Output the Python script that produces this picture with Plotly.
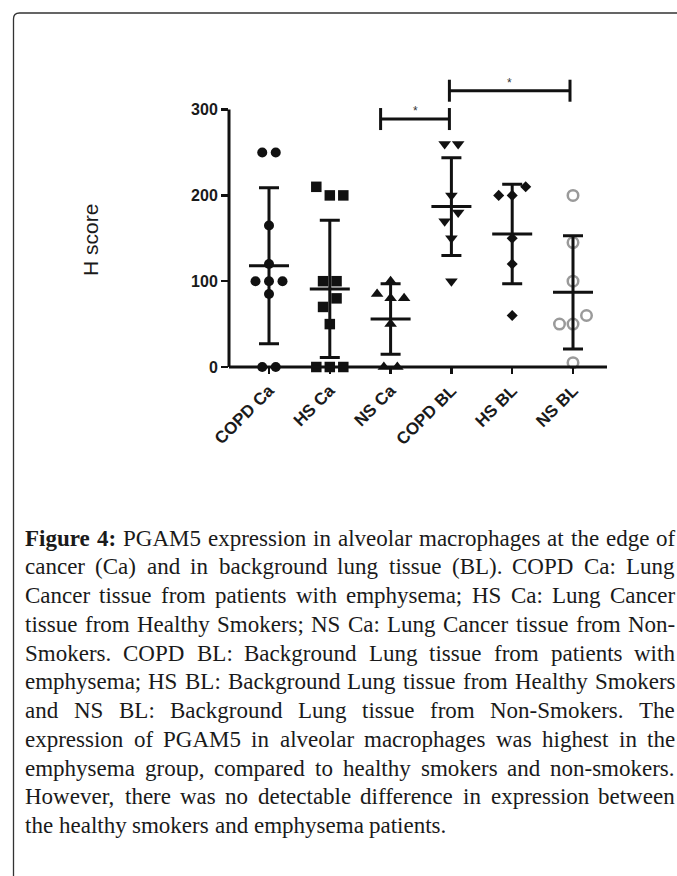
import plotly.graph_objects as go

# ---------------- data ----------------
categories = ["COPD Ca", "HS Ca", "NS Ca", "COPD BL", "HS BL", "NS BL"]
copd_ca = [250, 250, 165, 120, 100, 100, 100, 85, 0, 0]
hs_ca = [210, 200, 200, 100, 100, 70, 80, 50, 0, 0, 0]
ns_ca = [100, 85, 80, 80, 50, 0, 0]
copd_bl = [260, 260, 200, 170, 180, 150, 100]
hs_bl = [200, 200, 210, 150, 120, 60]
ns_bl = [200, 145, 100, 50, 50, 60, 5]
group_means = [118, 91, 56, 187, 155, 87]
group_sds = [91, 80, 41, 57, 58, 66]
y_ticks = [0, 100, 200, 300]
sig_pairs = [("NS Ca", "COPD BL"), ("COPD BL", "NS BL")]
sig_levels = [289, 322]
sig_labels = ["*", "*"]
y_title = "H score"

caption_lines = [
    "Figure 4: PGAM5 expression in alveolar macrophages at the edge of",
    "cancer (Ca) and in background lung tissue (BL). COPD Ca: Lung",
    "Cancer tissue from patients with emphysema; HS Ca: Lung Cancer",
    "tissue from Healthy Smokers; NS Ca: Lung Cancer tissue from Non-",
    "Smokers. COPD BL: Background Lung tissue from patients with",
    "emphysema; HS BL: Background Lung tissue from Healthy Smokers",
    "and NS BL: Background Lung tissue from Non-Smokers. The",
    "expression of PGAM5 in alveolar macrophages was highest in the",
    "emphysema group, compared to healthy smokers and non-smokers.",
    "However, there was no detectable difference in expression between",
    "the healthy smokers and emphysema patients.",
]
caption_bold_words = 2  # "Figure 4:"

groups = [copd_ca, hs_ca, ns_ca, copd_bl, hs_bl, ns_bl]

# ---------------- geometry / style ----------------
W, H = 677, 876
ML, MR, MT, MB = 229, 70, 71, 509
PW, PH = W - ML - MR, H - MT - MB
PX_PER_CAT = 60.8
FIRST_CAT_PX = 269
X0 = -(FIRST_CAT_PX - ML) / PX_PER_CAT
X1 = X0 + PW / PX_PER_CAT
PX_PER_UNIT = 0.858
Y1 = PH / PX_PER_UNIT

def px2x(px):
    return (px - ML) / PW

def py2y(py):
    return (H - MB - py) / PH

def u(px):  # pixels -> category units
    return px / PX_PER_CAT

symbols = ["circle", "square", "triangle-up", "triangle-down", "diamond", "circle-open"]
sizes = [10, 10.5, 11, 11, 8.5, 10.5]
colors = ["#111", "#111", "#111", "#111", "#111", "#9a9a9a"]
INK = "#111111"


def swarm_offsets(vals, gap, tol=12):
    order = sorted(range(len(vals)), key=lambda i: vals[i])
    clusters = []
    for i in order:
        if clusters and vals[i] - vals[clusters[-1][-1]] <= tol:
            clusters[-1].append(i)
        else:
            clusters.append([i])
    off = [0.0] * len(vals)
    for cl in clusters:
        cl = sorted(cl)
        n = len(cl)
        for k, i in enumerate(cl):
            off[i] = (k - (n - 1) / 2) * gap
    return off


fig = go.Figure()

# points
for gi, vals in enumerate(groups):
    offs = swarm_offsets(vals, u(13.5))
    xs = [gi + o for o in offs]
    mk = dict(symbol=symbols[gi], size=sizes[gi], color=colors[gi])
    if symbols[gi].endswith("open"):
        mk["line"] = dict(width=2.5, color=colors[gi])
    else:
        mk["line"] = dict(width=0)
    fig.add_trace(go.Scatter(x=xs, y=vals, mode="markers", marker=mk,
                             cliponaxis=False, showlegend=False, hoverinfo="skip"))

# mean lines
mx, my = [], []
hw = u(20)
for gi, m in enumerate(group_means):
    mx += [gi - hw, gi + hw, None]
    my += [m, m, None]
fig.add_trace(go.Scatter(x=mx, y=my, mode="lines", line=dict(color=INK, width=3),
                         showlegend=False, hoverinfo="skip"))

# SD error bars
fig.add_trace(go.Scatter(x=list(range(len(categories))), y=group_means, mode="markers",
                         marker=dict(size=1, color="rgba(0,0,0,0)"),
                         error_y=dict(type="data", array=group_sds, visible=True,
                                      color=INK, thickness=3, width=10),
                         showlegend=False, hoverinfo="skip"))

# significance brackets
bx, by = [], []
tick_h = 11 / PX_PER_UNIT
end_adj = {0: (-u(10), -u(2)), 1: (-u(2), -u(3))}
annotations = []
for k, ((a, b), lev) in enumerate(zip(sig_pairs, sig_levels)):
    xa = categories.index(a) + end_adj[k][0]
    xb = categories.index(b) + end_adj[k][1]
    bx += [xa, xa, None, xa, xb, None, xb, xb, None]
    by += [lev - tick_h, lev + tick_h, None, lev, lev, None, lev - tick_h, lev + tick_h, None]
    annotations.append(dict(x=(xa + xb) / 2, y=lev, xref="x", yref="y", text=sig_labels[k],
                            showarrow=False, yshift=8, font=dict(family="Liberation Sans", size=12, color="#333"),
                            xanchor="center", yanchor="middle"))
fig.add_trace(go.Scatter(x=bx, y=by, mode="lines", line=dict(color=INK, width=3),
                         showlegend=False, hoverinfo="skip"))

# y title
annotations.append(dict(x=px2x(90), y=py2y(240), xref="paper", yref="paper", text=y_title,
                        textangle=-90, showarrow=False, xanchor="center", yanchor="middle",
                        font=dict(family="Liberation Sans", size=21, color="#1a1a1a")))

# ---------------- caption (justified, word by word) ----------------
TR = dict(zip(" !\"#$%&'()*+,-./0123456789:;<=>?@",
              [250, 333, 408, 500, 500, 833, 778, 333, 333, 333, 500, 564, 250, 333, 250, 278,
               500, 500, 500, 500, 500, 500, 500, 500, 500, 500, 278, 278, 564, 564, 564, 444, 921]))
TR.update(dict(zip("ABCDEFGHIJKLMNOPQRSTUVWXYZ",
                   [722, 667, 667, 722, 611, 556, 722, 722, 333, 389, 722, 611, 889, 722, 722, 556,
                    722, 667, 556, 611, 722, 722, 944, 722, 722, 611])))
TR.update(dict(zip("abcdefghijklmnopqrstuvwxyz",
                   [444, 500, 444, 500, 444, 333, 500, 500, 278, 278, 500, 278, 778, 500, 500, 500,
                    500, 333, 389, 278, 500, 500, 722, 500, 500, 444])))
TB = dict(TR)
TB.update({"F": 611, "i": 278, "g": 500, "u": 556, "r": 444, "e": 444, "4": 500, ":": 333, " ": 250})

CAP_SIZE = 23
CAP_LEFT, CAP_RIGHT = 25, 675
CAP_TOP, CAP_STEP = 538, 28.75


def tw(s, bold=False):
    t = TB if bold else TR
    return sum(t.get(c, 500) for c in s) * CAP_SIZE / 1000


for li, line in enumerate(caption_lines):
    words = line.split(" ")
    bolds = [li == 0 and wi < caption_bold_words for wi in range(len(words))]
    widths = [tw(w, b) for w, b in zip(words, bolds)]
    if li < len(caption_lines) - 1:
        gap = (CAP_RIGHT - CAP_LEFT - sum(widths)) / (len(words) - 1)
    else:
        gap = tw(" ")
    xpos = CAP_LEFT
    ypx = CAP_TOP + li * CAP_STEP
    for w, b, wd in zip(words, bolds, widths):
        annotations.append(dict(x=px2x(xpos), y=py2y(ypx), xref="paper", yref="paper",
                                text=f"<b>{w}</b>" if b else w, showarrow=False,
                                xanchor="left", yanchor="middle", borderpad=0, borderwidth=0,
                                font=dict(family="Liberation Serif", size=CAP_SIZE, color="#1a1a1a")))
        xpos += wd + gap

# ---------------- shapes: axes lines and frame ----------------
shapes = [
    dict(type="line", xref="paper", yref="paper", x0=0, x1=0, y0=0, y1=300 / Y1,
         line=dict(color=INK, width=3)),
    dict(type="line", xref="paper", yref="paper", x0=0, x1=1, y0=0, y1=0,
         line=dict(color=INK, width=3)),
]
r = 6
fx, fy = 13.5, 13
path = (f"M {px2x(fx)},{py2y(H + 10)} L {px2x(fx)},{py2y(fy + r)} "
        f"Q {px2x(fx)},{py2y(fy)} {px2x(fx + r)},{py2y(fy)} L {px2x(W + 10)},{py2y(fy)}")
shapes.append(dict(type="path", xref="paper", yref="paper", path=path,
                   line=dict(color="#333", width=1.3)))

fig.update_layout(
    width=W, height=H, margin=dict(l=ML, r=MR, t=MT, b=MB, pad=0),
    paper_bgcolor="white", plot_bgcolor="white", showlegend=False,
    annotations=annotations, shapes=shapes,
    xaxis=dict(range=[X0, X1], tickmode="array", tickvals=list(range(len(categories))),
               ticktext=categories, tickangle=-45, ticks="outside", ticklen=6, tickwidth=2.5,
               tickcolor=INK, showgrid=False, zeroline=False, showline=False,
               tickfont=dict(family="Liberation Sans", size=17, color="#1a1a1a", weight="bold")),
    yaxis=dict(range=[0, Y1], tickmode="array", tickvals=y_ticks, ticks="outside", ticklen=7,
               tickwidth=2.5, tickcolor=INK, showgrid=False, zeroline=False, showline=False,
               tickfont=dict(family="Liberation Sans", size=16, color="#1a1a1a", weight="bold")),
)

fig.write_html("out.html", config={"displayModeBar": False, "staticPlot": True},
               post_script="document.body.style.margin='0';document.body.style.overflow='hidden';")
